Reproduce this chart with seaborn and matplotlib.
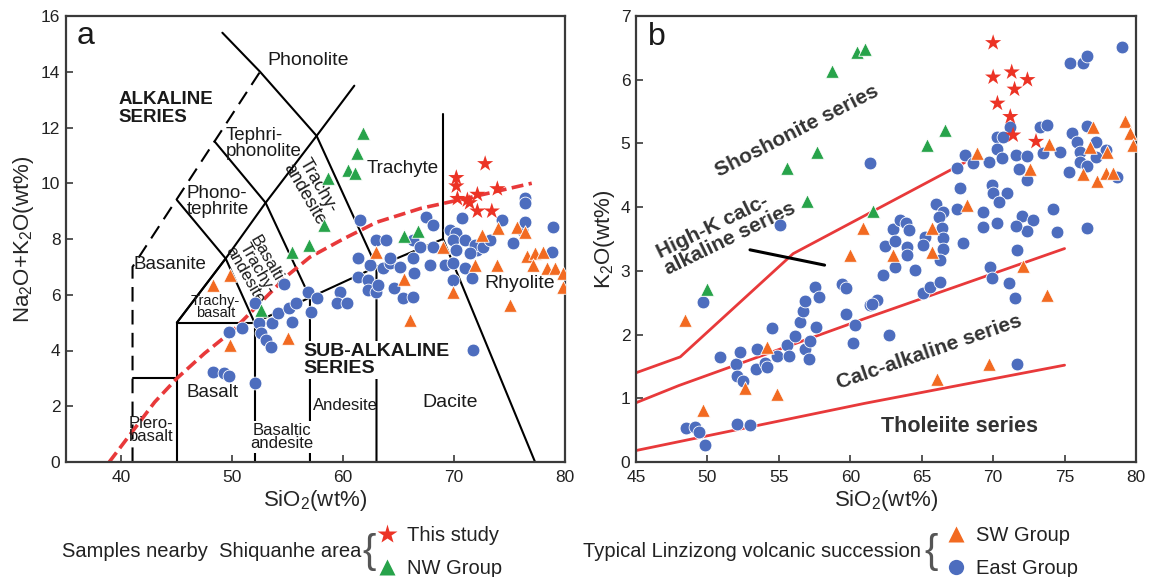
import pandas as pd
import seaborn as sns
import matplotlib.pyplot as plt
from matplotlib.lines import Line2D

sns.set_style('ticks')
plt.rcParams['font.family'] = ['Liberation Sans', 'DejaVu Sans']
plt.rcParams['mathtext.fontset'] = 'custom'
plt.rcParams['mathtext.rm'] = 'Liberation Sans'

RED = '#EC3325'
GREEN = '#27A34A'
ORANGE = '#F26A21'
BLUE = '#4D6DBE'
LINE_RED = '#E8393A'

# ---------------- panel a (TAS) data ----------------
a_star_x = [72.8, 70.2, 70.2, 73.9, 72.1, 70.3, 71.4, 72.1, 73.4, 71.2]
a_star_y = [10.7, 10.2, 9.9, 9.8, 9.6, 9.45, 9.3, 9.0, 9.0, 9.4]

a_nw_x = [61.8, 61.2, 60.4, 61.1, 58.6, 58.3, 56.9, 55.4, 65.5, 66.7, 52.6]
a_nw_y = [11.8, 11.07, 10.47, 10.36, 10.2, 8.5, 7.78, 7.53, 8.1, 8.3, 5.45]

a_sw_x = [48.3, 49.8, 49.8, 55.0, 63.0, 65.5, 66.0, 69.9, 71.9, 73.9, 75.0, 76.6,
          77.3, 78.0, 77.1, 78.4, 79.1, 79.8, 79.8, 69.0, 72.5, 74.0, 75.7, 76.4]
a_sw_y = [6.34, 6.7, 4.19, 4.44, 7.55, 6.55, 5.08, 6.1, 7.06, 7.06, 5.63, 7.4,
          7.5, 7.53, 7.06, 6.95, 6.95, 6.77, 6.27, 7.7, 8.14, 8.4, 8.43, 8.25]

a_east_x = [48.3, 49.25, 49.7, 52.0, 49.7, 50.9, 52.4, 52.6, 53.05, 53.5, 53.6, 54.1,
            55.4, 55.1, 55.7, 54.7, 52.0, 56.8, 57.6, 57.1, 59.7, 59.4, 60.3, 61.3,
            62.2, 62.2, 63.0, 63.1, 62.4, 63.6, 64.2, 65.1, 64.6, 65.4, 66.3, 66.4,
            66.3, 67.8, 69.2, 69.9, 69.9, 71.0, 71.6, 71.7, 72.1, 78.8, 61.5, 63.0,
            63.9, 64.2, 67.5, 68.1, 66.3, 66.9, 68.1, 69.6, 70.2, 70.7, 69.9, 71.0,
            71.9, 70.2, 71.4, 72.6, 73.2, 74.3, 75.3, 76.1, 76.4, 76.4, 76.4, 78.9,
            61.3]
a_east_y = [3.23, 3.19, 3.08, 2.83, 4.66, 4.8, 4.98, 4.62, 4.37, 4.12, 4.98, 5.34,
            5.02, 5.52, 5.7, 6.4, 5.7, 6.1, 5.9, 5.38, 6.1, 5.7, 5.7, 6.63,
            6.52, 6.16, 6.1, 6.34, 7.06, 6.95, 7.13, 6.99, 6.24, 5.88, 5.91, 6.77,
            7.31, 7.06, 7.06, 6.52, 7.13, 6.95, 6.6, 4.01, 7.6, 7.53, 8.67, 7.96,
            7.96, 7.31, 8.78, 8.5, 7.96, 7.7, 7.7, 8.32, 8.2, 8.74, 7.96, 7.96,
            7.78, 7.6, 7.49, 7.7, 7.96, 8.67, 7.85, 8.32, 9.46, 9.28, 8.6, 8.43,
            7.31]

# Irvine & Baragar alkaline / sub-alkaline divide
ib_x = [38.9, 41, 43, 45, 47.5, 50, 53, 55, 57, 60, 63, 67, 71, 77]
ib_y = [0, 1.1, 2.15, 3.0, 3.9, 4.7, 5.9, 6.7, 7.35, 8.0, 8.6, 9.1, 9.45, 10.0]

# ---------------- panel b (SiO2-K2O) data ----------------
b_star_x = [70.0, 70.0, 71.3, 72.4, 71.5, 70.3, 71.2, 71.4, 73.0]
b_star_y = [6.58, 6.04, 6.12, 6.0, 5.85, 5.63, 5.42, 5.13, 5.03]

b_nw_x = [60.5, 61.0, 58.7, 57.7, 55.6, 57.0, 61.6, 66.6, 65.4, 50.0]
b_nw_y = [6.44, 6.48, 6.14, 4.87, 4.61, 4.1, 3.94, 5.21, 4.98, 2.72]

b_sw_x = [48.4, 49.7, 54.2, 52.6, 54.9, 60.0, 60.9, 68.9, 68.2, 65.7, 65.7, 72.6,
          73.9, 77.0, 76.8, 78.0, 76.3, 77.3, 77.9, 78.4, 79.2, 79.6, 79.8, 63.0,
          72.1, 73.8, 69.7, 66.1]
b_sw_y = [2.23, 0.82, 1.8, 1.16, 1.07, 3.25, 3.67, 4.85, 4.03, 3.67, 3.3, 4.6,
          4.99, 5.26, 4.95, 4.87, 4.52, 4.41, 4.54, 4.54, 5.35, 5.16, 4.98, 3.25,
          3.08, 2.62, 1.54, 1.3]

b_east_x = [49.7, 48.5, 49.1, 49.4, 49.8, 52.1, 53.0, 50.9, 52.0, 52.3, 52.1, 52.5,
            53.5, 53.4, 54.0, 54.2, 54.5, 54.9, 55.6, 55.7, 56.1, 56.5, 56.7, 56.8,
            56.8, 57.2, 57.1, 57.6, 57.5, 57.8, 59.4, 59.7, 59.7, 60.3, 60.2, 61.4,
            55.1, 61.4, 79.0, 75.4, 76.3, 76.6, 71.2, 70.3, 70.7, 73.3, 73.8, 75.5,
            75.9, 76.6, 77.2, 77.9, 70.3, 70.6, 69.7, 68.0, 68.6, 67.5, 71.6, 72.4,
            73.5, 74.7, 76.1, 76.1, 76.6, 77.2, 75.3, 78.7, 71.8, 72.4, 67.7, 69.9,
            70.0, 71.0, 70.4, 66.0, 66.5, 66.2, 67.5, 69.3, 74.2, 72.0, 72.8, 72.4,
            71.6, 70.3, 69.3, 74.5, 76.6, 66.4, 66.5, 66.5, 65.2, 65.1, 67.9, 63.0,
            63.5, 63.9, 64.1, 62.4, 63.1, 64.0, 71.7, 64.0, 66.3, 63.1, 62.3, 64.5,
            69.8, 69.9, 71.1, 71.5, 65.1, 65.6, 66.3, 61.9, 61.5, 62.7, 71.7]
b_east_y = [2.51, 0.53, 0.55, 0.47, 0.27, 0.6, 0.58, 1.65, 1.54, 1.73, 1.35, 1.27,
            1.77, 1.46, 1.56, 1.49, 2.1, 1.66, 1.84, 1.66, 1.98, 2.19, 2.37, 2.53,
            1.77, 1.9, 1.62, 2.12, 2.75, 2.59, 2.8, 2.73, 2.32, 2.15, 1.87, 2.46,
            3.72, 4.69, 6.52, 6.27, 6.27, 6.37, 5.26, 5.1, 5.1, 5.26, 5.29, 5.17,
            5.03, 5.27, 5.03, 4.89, 4.91, 4.77, 4.71, 4.82, 4.69, 4.61, 4.82, 4.8,
            4.85, 4.87, 4.87, 4.71, 4.65, 4.79, 4.55, 4.47, 4.6, 4.43, 4.3, 4.35,
            4.22, 4.22, 4.08, 4.05, 3.93, 3.85, 3.97, 3.93, 3.97, 3.86, 3.8, 3.63,
            3.7, 3.75, 3.69, 3.61, 3.67, 3.67, 3.51, 3.34, 3.53, 3.41, 3.44, 3.66,
            3.8, 3.75, 3.64, 3.39, 3.47, 3.38, 3.33, 3.25, 3.17, 3.06, 2.94, 3.01,
            3.06, 2.89, 2.81, 2.57, 2.65, 2.75, 2.83, 2.54, 2.48, 2.0, 1.54]

# series boundaries (Peccerillo & Taylor style)
sho_x, sho_y = [45, 48.1, 56.0, 68.0], [1.4, 1.65, 3.27, 4.7]
hk_x, hk_y = [45, 48, 61, 75], [0.93, 1.2, 2.25, 3.35]
th_x, th_y = [45, 61, 75], [0.18, 0.92, 1.52]

fig = plt.figure(figsize=(11.52, 5.77), dpi=100)
ax1 = fig.add_axes([66 / 1152, 115 / 577, 499 / 1152, 446 / 577])
ax2 = fig.add_axes([636 / 1152, 115 / 577, 500 / 1152, 446 / 577])

pt = dict(edgecolor='white', linewidth=0.6, legend=False, zorder=4)


def draw_points(ax, ex, ey, sx, sy, nx, ny, rx, ry):
    sns.scatterplot(x=ex, y=ey, ax=ax, color=BLUE, marker='o', s=85, **pt)
    sns.scatterplot(x=sx, y=sy, ax=ax, color=ORANGE, marker='^', s=95, **pt)
    sns.scatterplot(x=nx, y=ny, ax=ax, color=GREEN, marker='^', s=95, **pt)
    sns.scatterplot(x=rx, y=ry, ax=ax, color=RED, marker='*', s=150,
                    edgecolor='none', legend=False, zorder=5)


# ---- panel a ----
solid = [
    ([41, 45], [3, 3]), ([45, 45], [0, 5]), ([45, 52], [5, 5]), ([52, 52], [0, 5]),
    ([45, 49.4, 52], [5, 7.3, 5]),
    ([45, 49.4, 53, 57.6, 61], [5, 7.3, 9.3, 11.7, 13.5]),
    ([45, 49.4], [9.4, 7.3]), ([48.4, 53, 57, 57], [11.5, 9.3, 5.9, 0]),
    ([49.1, 52.5, 57.6, 63, 63], [15.4, 14, 11.7, 7, 0]),
    ([52, 57, 63, 69, 77.3], [5, 5.9, 7, 8, 0]), ([69, 69], [8, 12.5]),
]
for xs, ys in solid:
    ax1.plot(xs, ys, color='black', lw=1.5, zorder=1.5)
ax1.plot([41, 41, 52.5], [0, 7, 14], color='black', lw=1.5, dashes=(7, 4), zorder=1.5)
ax1.plot(ib_x, ib_y, color=LINE_RED, lw=2.6, dashes=(3.3, 1.5), zorder=2)

draw_points(ax1, a_east_x, a_east_y, a_sw_x, a_sw_y, a_nw_x, a_nw_y, a_star_x, a_star_y)

wb = dict(facecolor='white', edgecolor='none', pad=1.0)
lab = dict(color='#1a1a1a', zorder=2.5)
ax1.text(35.95, 15.0, 'a', fontsize=23, va='baseline', **lab)
ax1.text(53.15, 14.41, 'Phonolite', fontsize=14, va='center', **lab)
ax1.text(39.75, 12.69, 'ALKALINE\nSERIES', fontsize=13.5, fontweight='bold',
         va='center', linespacing=1.05, **lab)
ax1.text(49.43, 11.43, 'Tephri-\nphonolite', fontsize=13.5, va='center', linespacing=0.95, **lab)
ax1.text(45.9, 9.35, 'Phono-\ntephrite', fontsize=13.5, va='center', linespacing=0.95, **lab)
ax1.text(57.1, 9.75, 'Trachy-\nandesite', fontsize=13, rotation=-60, ha='center',
         va='center', rotation_mode='anchor', linespacing=0.95, **lab)
ax1.text(52.2, 6.95, 'Basaltic\nTrachy-\nandesite', fontsize=12, rotation=-60, ha='center',
         va='center', rotation_mode='anchor', linespacing=0.85, **lab)
ax1.text(41.1, 7.1, 'Basanite', fontsize=13.5, va='center', **lab)
ax1.text(48.5, 5.55, 'Trachy-\nbasalt', fontsize=10.5, ha='center', va='center',
         linespacing=0.85, **lab)
ax1.text(48.2, 2.51, 'Basalt', fontsize=13.5, ha='center', va='center', **lab)
ax1.text(42.7, 1.15, 'Piero-\nbasalt', fontsize=12, ha='center', va='center',
         linespacing=0.9, **lab)
ax1.text(54.5, 0.9, 'Basaltic\nandesite', fontsize=12, ha='center', va='center',
         linespacing=0.9, bbox=wb, **lab)
ax1.text(60.2, 2.04, 'Andesite', fontsize=12, ha='center', va='center', **lab)
ax1.text(56.4, 3.66, 'SUB-ALKALINE\nSERIES', fontsize=14, fontweight='bold', va='center',
         linespacing=1.05, bbox=wb, **lab)
ax1.text(69.6, 2.15, 'Dacite', fontsize=14, ha='center', va='center', **lab)
ax1.text(62.1, 10.52, 'Trachyte', fontsize=13.5, va='center', **lab)
ax1.text(72.7, 6.42, 'Rhyolite', fontsize=14, va='center', **lab)

ax1.set_xlim(35, 80)
ax1.set_ylim(0, 16)
ax1.set_xticks([40, 50, 60, 70, 80])
ax1.set_yticks(range(0, 17, 2))
ax1.set_xlabel(r'SiO$_\mathregular{2}$(wt%)', fontsize=16, labelpad=2)
ax1.set_ylabel(r'Na$_\mathregular{2}$O+K$_\mathregular{2}$O(wt%)', fontsize=16, labelpad=4)

# ---- panel b ----
for xs, ys in [(sho_x, sho_y), (hk_x, hk_y), (th_x, th_y)]:
    ax2.plot(xs, ys, color=LINE_RED, lw=2, zorder=1.5)
ax2.plot([52.98, 58.2], [3.33, 3.09], color='black', lw=2.2, zorder=1.5)

draw_points(ax2, b_east_x, b_east_y, b_sw_x, b_sw_y, b_nw_x, b_nw_y, b_star_x, b_star_y)

ax2.text(45.84, 6.55, 'b', fontsize=23, va='baseline', **lab)
ax2.text(56.27, 5.2, 'Shoshonite series', fontsize=15, fontweight='bold', rotation=27,
         ha='center', va='center', rotation_mode='anchor', color='#333333', zorder=2.5)
ax2.text(51.3, 3.64, 'High-K calc-\nalkaline series', fontsize=15, fontweight='bold',
         rotation=26, ha='center', va='center', rotation_mode='anchor',
         multialignment='left', linespacing=1.0, color='#333333', zorder=2.5)
ax2.text(65.5, 1.73, 'Calc-alkaline series', fontsize=15, fontweight='bold', rotation=19,
         ha='center', va='center', rotation_mode='anchor', color='#333333', zorder=2.5)
ax2.text(67.67, 0.55, 'Tholeiite series', fontsize=15.5, fontweight='bold',
         ha='center', va='center', color='#333333', zorder=2.5)

ax2.set_xlim(45, 80)
ax2.set_ylim(0, 7)
ax2.set_xticks(range(45, 81, 5))
ax2.set_yticks(range(0, 8))
ax2.set_xlabel(r'SiO$_\mathregular{2}$(wt%)', fontsize=16, labelpad=2)
ax2.set_ylabel(r'K$_\mathregular{2}$O(wt%)', fontsize=16, labelpad=3)

for ax in (ax1, ax2):
    for sp in ax.spines.values():
        sp.set_visible(True)
        sp.set_color('#3a3a3a')
        sp.set_linewidth(1.6)
    ax.tick_params(direction='in', length=5, width=1.2, color='#3a3a3a',
                   labelsize=12.5, labelcolor='#222222')
    ax.tick_params(axis='x', pad=6)
    ax.tick_params(axis='y', pad=4)

# ---- bottom legends ----
fig.text(62 / 1152, 20 / 577, 'Samples nearby  Shiquanhe area', fontsize=14.5,
         va='baseline', color='#222222')
fig.text(583 / 1152, 20 / 577, 'Typical Linzizong volcanic succession', fontsize=14.5,
         va='baseline', color='#222222')
fig.text(369 / 1152, 25 / 577, '{', fontsize=29, ha='center', va='center', color='#555555')
fig.text(931 / 1152, 25 / 577, '{', fontsize=29, ha='center', va='center', color='#555555')

h1 = [Line2D([], [], ls='', marker='*', ms=15, color=RED, mec='none'),
      Line2D([], [], ls='', marker='^', ms=12, color=GREEN, mec='none')]
h2 = [Line2D([], [], ls='', marker='^', ms=12, color=ORANGE, mec='none'),
      Line2D([], [], ls='', marker='o', ms=11, color=BLUE, mec='none')]
common = dict(loc='upper left', frameon=False, fontsize=14.5, handlelength=0.8,
              handletextpad=0.6, labelspacing=0.7, borderpad=0, borderaxespad=0)
leg1 = fig.legend(h1, ['This study', 'NW Group'], bbox_to_anchor=(379 / 1152, 51 / 577),
                  **common)
leg2 = fig.legend(h2, ['SW Group', 'East Group'], bbox_to_anchor=(948 / 1152, 51 / 577),
                  **common)
for leg in (leg1, leg2):
    for t in leg.get_texts():
        t.set_color('#222222')

plt.savefig('out.png', dpi=100)
